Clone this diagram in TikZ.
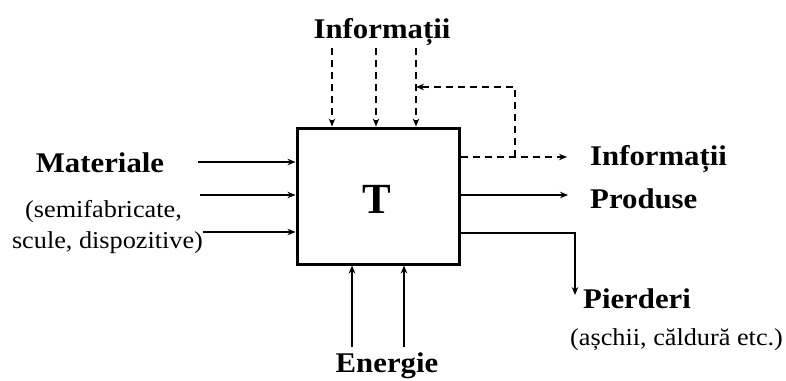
\documentclass[tikz,border=0pt]{standalone}
\usepackage{fontspec}
\setmainfont{Liberation Serif}
\newfontfamily\wideserif{Liberation Serif}[FakeStretch=1.08]
\usetikzlibrary{arrows.meta}
\begin{document}
\begin{tikzpicture}[x=1pt,y=-1pt,
  lbl/.style={font=\wideserif\fontsize{28.5}{30}\selectfont\bfseries, inner sep=0pt},
  sub/.style={font=\wideserif\fontsize{24.3}{26}\selectfont, inner sep=0pt},
  arr/.style={line width=1.6pt, -{Stealth[length=8pt,width=6.5pt]}},
  darr/.style={arr, dash pattern=on 7pt off 5pt},
]
\useasboundingbox[fill=white] (0,0) rectangle (786,380);
% process box
\node[draw, line width=3pt, minimum width=162pt, minimum height=136pt, inner sep=0pt] (box) at (378,196) {};
\node[font=\fontsize{43}{45}\selectfont\bfseries, inner sep=0pt, anchor=base] (T) at (377,213) {T};
% top information inputs
\node[lbl, anchor=base] (itop) at (382,38) {Informații};
\coordinate (i1) at (332,48);
\coordinate (i2) at (376,48);
\coordinate (i3) at (416,48);
\draw[darr] (i1) -- (i1 |- box.north);
\draw[darr] (i2) -- (i2 |- box.north);
\draw[darr] (i3) -- (i3 |- box.north);
% information output and feedback
\coordinate (oi) at (567,157);
\coordinate (fb) at (515,157);
\coordinate (fbt) at (515,87);
\coordinate (fbl) at (416,87);
\draw[darr] (box.east |- oi) -- (oi);
\draw[darr] (fb) -- (fbt) -- (fbl);
\node[lbl, anchor=base west] (iout) at (590,165) {Informații};
% materials
\node[lbl, anchor=base] (mat) at (100,172) {Materiale};
\node[sub, anchor=base] (semi) at (103.5,217) {(semifabricate,};
\node[sub, anchor=base] (scule) at (107.5,248) {scule, dispozitive)};
\coordinate (m1) at (198,162);
\coordinate (m2) at (200,195);
\coordinate (m3) at (203,232);
\draw[arr] (m1) -- (m1 -| box.west);
\draw[arr] (m2) -- (m2 -| box.west);
\draw[arr] (m3) -- (m3 -| box.west);
% products
\coordinate (p) at (568,195);
\draw[arr] (box.east |- p) -- (p);
\node[lbl, anchor=base west] (prod) at (590,208) {Produse};
% losses
\coordinate (pc) at (575,233);
\coordinate (pe) at (575,295);
\draw[arr] (box.east |- pc) -- (pc) -- (pe);
\node[lbl, anchor=base west] (pier) at (583,308) {Pierderi};
\node[sub, anchor=base west] (asch) at (570,345) {(așchii, căldură etc.)};
% energy
\coordinate (e1) at (352,347);
\coordinate (e2) at (404,347);
\draw[arr] (e1) -- (e1 |- box.south);
\draw[arr] (e2) -- (e2 |- box.south);
\node[lbl, anchor=base] (en) at (387,372) {Energie};
\end{tikzpicture}
\end{document}
